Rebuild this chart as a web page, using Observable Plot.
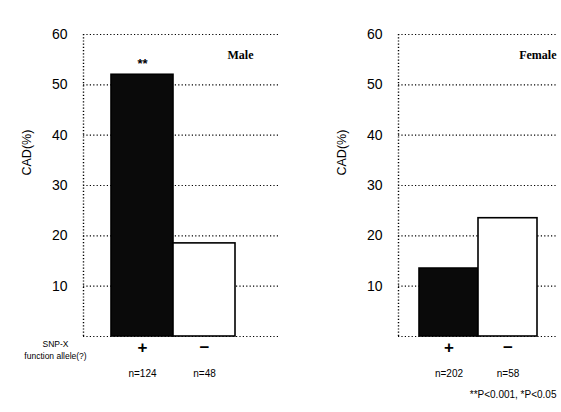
<!DOCTYPE html>
<html>
<head>
<meta charset="utf-8">
<script src="https://cdn.jsdelivr.net/npm/d3@7"></script>
<script src="https://cdn.jsdelivr.net/npm/@observablehq/plot@0.6"></script>
<style>
  html, body { margin: 0; padding: 0; background: #fff; }
  #wrap { position: relative; width: 561px; height: 412px; font-family: "Liberation Sans", Arial, sans-serif; }
  .panel { position: absolute; top: 0; }
</style>
</head>
<body>
<div id="wrap">
  <div class="panel" id="male" style="left:0px"></div>
  <div class="panel" id="female" style="left:280px"></div>
</div>
<script>
// ---- data ----
const alleles = ["+", "\u2212"];
const maleValues = [52, 18.5];
const femaleValues = [13.5, 23.5];
const maleN = ["n=124", "n=48"];
const femaleN = ["n=202", "n=58"];
const yTicks = [10, 20, 30, 40, 50, 60];
const yLabel = "CAD(%)";
const maleTitle = "Male";
const femaleTitle = "Female";
const maleSig = ["**", ""];
const alleleCaption = ["SNP-X", "function allele(?)"];
const footnote = "**P<0.001, *P<0.05";

function panel(el, opts) {
  const data = alleles.map((a, i) => ({allele: a, value: opts.values[i], n: opts.n[i], sig: opts.sig ? opts.sig[i] : ""}));
  const dots = {stroke: "black", strokeWidth: 1.2, strokeDasharray: "1.2,2.2"};
  const marks = [
    Plot.ruleY(yTicks, dots),
    Plot.ruleY([0], dots),
    Plot.barY(data, {x: "allele", y: "value", fill: d => d.allele === "+" ? "#0a0a0a" : "#ffffff", stroke: "black", strokeWidth: 1.6, inset: 0}),
    Plot.axisY(yTicks, {tickSize: 0, tickPadding: opts.tickPad, fontSize: 14, label: null}),
    Plot.text([yLabel], {frameAnchor: "left", dx: -opts.labelOffset, dy: -10, rotate: -90, fontSize: 12.5}),
    Plot.axisX({tickSize: 0, tickPadding: 4, fontSize: 17, fontWeight: "bold", label: null}),
    Plot.text(data, {x: "allele", y: 0, text: "n", dy: 37, fontSize: 10}),
    Plot.text([opts.title], {frameAnchor: "top-right", dx: -opts.titleRight, dy: 16, fontSize: 12, fontWeight: "bold", fontFamily: "Liberation Serif, serif"})
  ];
  if (opts.sig) marks.push(Plot.text(data, {x: "allele", y: "value", text: "sig", dy: -11, fontSize: 13, fontWeight: "bold"}));
  if (opts.caption) marks.push(Plot.text([opts.caption.join("\n")], {frameAnchor: "bottom-left", dx: -28, dy: 22, fontSize: 8.5, lineHeight: 1.35, textAnchor: "middle"}));
  if (opts.foot) marks.push(Plot.text([opts.foot], {frameAnchor: "bottom-right", dx: 0, dy: 61, fontSize: 10, textAnchor: "end"}));
  const chart = Plot.plot({
    width: opts.width,
    height: 412,
    marginLeft: opts.ml,
    marginRight: opts.mr,
    marginTop: 34,
    marginBottom: 76,
    style: {fontFamily: "Liberation Sans, Arial, sans-serif", background: "white", color: "black", overflow: "visible"},
    x: {domain: alleles, range: opts.xRange, padding: 0},
    y: {domain: [0, 60]},
    color: {type: "identity"},
    marks
  });
  // dotted left frame line
  const ys = chart.scale("y").range;
  d3.select(chart).append("line")
    .attr("x1", opts.ml + 0.5).attr("x2", opts.ml + 0.5)
    .attr("y1", ys[0]).attr("y2", ys[1])
    .attr("stroke", "black").attr("stroke-width", 1.4).attr("stroke-dasharray", "1.2,2");
  el.appendChild(chart);
}

panel(document.getElementById("male"), {
  width: 280, ml: 83, mr: 0, xRange: [111, 235], values: maleValues, n: maleN,
  title: maleTitle, titleRight: 27, tickPad: 16, labelOffset: 57, sig: maleSig, caption: alleleCaption
});
panel(document.getElementById("female"), {
  width: 281, ml: 118, mr: 5, xRange: [138, 257], values: femaleValues, n: femaleN,
  title: femaleTitle, titleRight: 0, tickPad: 16, labelOffset: 57, foot: footnote
});
</script>
</body>
</html>
